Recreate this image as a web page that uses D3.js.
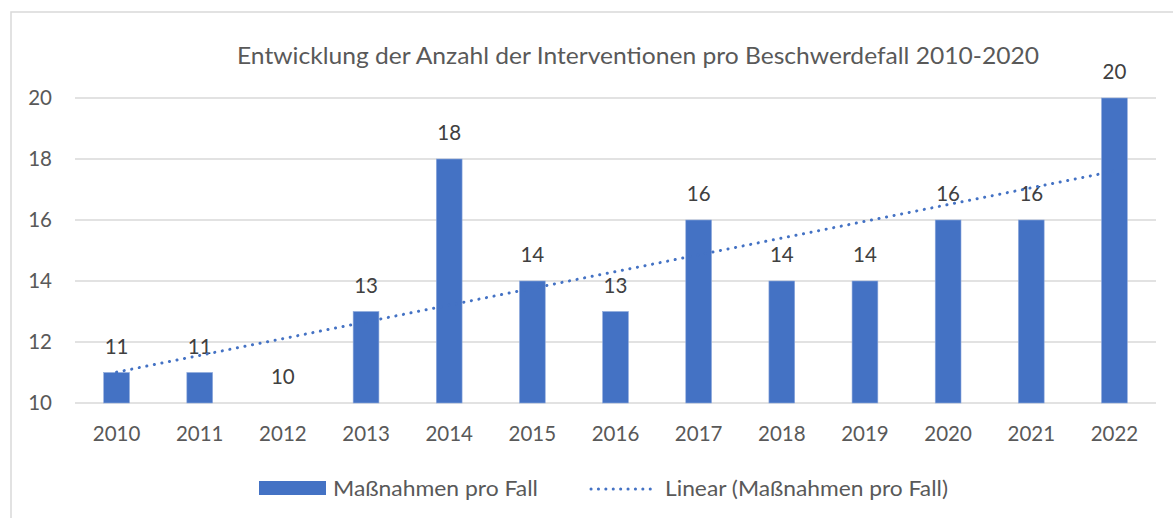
<!DOCTYPE html>
<html><head><meta charset="utf-8">
<script src="https://cdn.jsdelivr.net/npm/d3@7"></script>
<style>body{margin:0;background:#fff}text{font-family:Lato,"Open Sans",sans-serif}</style>
</head><body>
<svg id="c" width="1173" height="518"></svg>
<script>
const years = ["2010","2011","2012","2013","2014","2015","2016","2017","2018","2019","2020","2021","2022"];
const values = [11,11,10,13,18,14,13,16,14,14,16,16,20];
const yTicks = [10,12,14,16,18,20];
const title = "Entwicklung der Anzahl der Interventionen pro Beschwerdefall 2010-2020";
const seriesName = "Maßnahmen pro Fall";
const trendName = "Linear (Maßnahmen pro Fall)";

(function(){
const svg = d3.select("#c");
const blue = "#4472C4", grid = "#D9D9D9", txt = "#595959";
svg.append("rect").attr("x",11).attr("y",12).attr("width",1200).attr("height",560)
  .attr("fill","#fff").attr("stroke","#D9D9D9").attr("stroke-width",1.5);

const pL = 75, pR = 1156, pT = 98, pB = 403;
const x = d3.scaleBand().domain(years).range([pL,pR]).paddingInner(0.69).paddingOuter(0.345);
const y = d3.scaleLinear().domain([10,20]).range([pB,pT]);

svg.append("g").selectAll("line").data(yTicks).join("line")
  .attr("x1",pL).attr("x2",pR).attr("y1",d=>y(d)).attr("y2",d=>y(d))
  .attr("stroke",grid).attr("stroke-width",1.5);

const fs = "20.5px";
const yAxis = d3.axisLeft(y).tickValues(yTicks).tickSize(0).tickPadding(0);
svg.append("g").attr("transform",`translate(${pL-23},0)`).call(yAxis)
  .call(g=>g.select(".domain").remove())
  .call(g=>g.selectAll("text").attr("fill",txt).style("font-size",fs).style("font-family","Lato"));

const xAxis = d3.axisBottom(x).tickSize(0).tickPadding(0);
svg.append("g").attr("transform",`translate(0,${pB+23})`).call(xAxis)
  .call(g=>g.select(".domain").remove())
  .call(g=>g.selectAll("text").attr("fill",txt).style("font-size",fs).style("font-family","Lato"));

svg.append("g").selectAll("rect").data(values).join("rect")
  .attr("x",(d,i)=>x(years[i])).attr("width",x.bandwidth())
  .attr("y",d=>y(d)).attr("height",d=>y(10)-y(d))
  .attr("fill",blue).attr("stroke","#8FAADC").attr("stroke-width",0.6);

svg.append("g").selectAll("text").data(values).join("text")
  .attr("x",(d,i)=>x(years[i])+x.bandwidth()/2).attr("y",d=>y(d)-19)
  .attr("text-anchor","middle").attr("fill","#404040").style("font-size",fs).text(d=>d);

const n = values.length, xs = d3.range(n);
const mx = d3.mean(xs), my = d3.mean(values);
const slope = d3.sum(xs,(xi,i)=>(xi-mx)*(values[i]-my))/d3.sum(xs,xi=>(xi-mx)**2);
const icpt = my - slope*mx;
const cx = i => x(years[i]) + x.bandwidth()/2;
svg.append("line").attr("x1",cx(0)).attr("y1",y(icpt)).attr("x2",cx(n-1)).attr("y2",y(icpt+slope*(n-1)))
  .attr("stroke",blue).attr("stroke-width",3).attr("stroke-linecap","round").attr("stroke-dasharray","0.1 7.6");

svg.append("text").attr("x",638).attr("y",64).attr("text-anchor","middle")
  .attr("fill",txt).style("font-size","23.5px").attr("textLength",802).attr("lengthAdjust","spacingAndGlyphs").text(title);

svg.append("rect").attr("x",259).attr("y",481).attr("width",67).attr("height",14).attr("fill",blue);
svg.append("text").attr("x",333).attr("y",496).attr("fill",txt).style("font-size",fs)
  .attr("textLength",205).attr("lengthAdjust","spacingAndGlyphs").text(seriesName);
svg.append("line").attr("x1",591).attr("x2",657).attr("y1",489).attr("y2",489)
  .attr("stroke",blue).attr("stroke-width",3).attr("stroke-linecap","round").attr("stroke-dasharray","0.1 7.3");
svg.append("text").attr("x",665).attr("y",496).attr("fill",txt).style("font-size",fs)
  .attr("textLength",283).attr("lengthAdjust","spacingAndGlyphs").text(trendName);
})();
</script>
</body></html>
